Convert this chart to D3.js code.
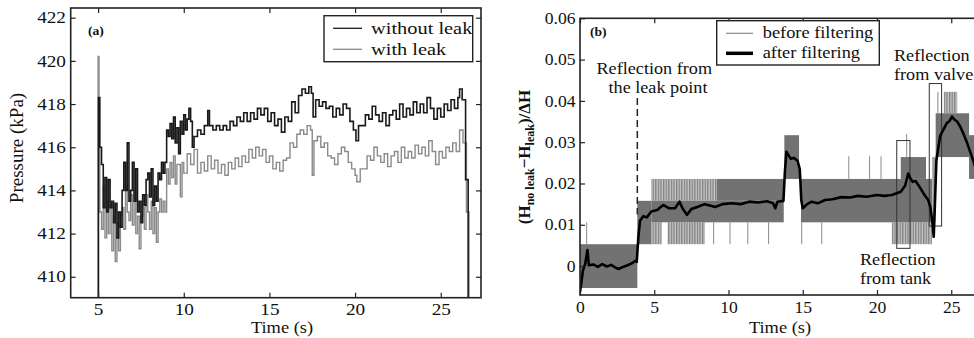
<!DOCTYPE html>
<html>
<head>
<meta charset="utf-8">
<script src="https://cdn.jsdelivr.net/npm/d3@7"></script>
<style>
  body { margin: 0; background: #fff; }
  text { font-family: "Liberation Serif", "Times New Roman", "DejaVu Serif", serif; fill: #111; }
</style>
</head>
<body>
<svg id="chart" width="974" height="338"></svg>
<script>
// ---- panel (a): pressure traces, [time s, kPa]
var withoutLeak = [[5.0,409],[5.02,418.3],[5.1,416],[5.2,415.2],[5.3,413.2],[5.4,414.6],[5.5,413.0],[5.6,414.5],[5.7,413.2],[5.8,413.5],[5.9,412.5],[6.0,413.4],[6.1,411.8],[6.2,413.0],[6.3,412.3],[6.4,414.0],[6.5,415.3],[6.6,414.0],[6.7,416.2],[6.8,413.5],[6.9,414.0],[7.0,415.3],[7.1,413.5],[7.2,415.0],[7.3,413.0],[7.4,413.5],[7.5,412.5],[7.6,413.8],[7.7,413.3],[7.8,414.5],[7.9,414.8],[8.0,413.7],[8.1,415.0],[8.2,413.3],[8.3,414.2],[8.4,413.5],[8.5,414.8],[8.6,414.5],[8.7,415.3],[8.8,414.8],[8.9,415.3],[9.0,416.8],[9.1,416.5],[9.2,417.1],[9.3,416.4],[9.4,417.4],[9.5,416.2],[9.6,416.9],[9.7,415.7],[9.8,417.2],[9.9,416.6],[10.0,417.5],[10.1,416.8],[10.2,417.3],[10.3,417.8],[10.4,417.2],[10.5,416.0],[10.6,416.5],[10.8,416.8],[11.0,416.6],[11.2,417.0],[11.4,417.7],[11.5,417.0],[11.7,416.8],[11.9,417.0],[12.1,416.8],[12.3,417.0],[12.5,416.8],[12.7,417.2],[12.9,417.0],[13.1,417.4],[13.3,417.2],[13.5,417.6],[13.7,417.2],[13.9,417.6],[14.1,417.3],[14.3,417.8],[14.5,417.5],[14.7,417.8],[14.9,417.2],[15.1,417.6],[15.3,417.0],[15.5,417.3],[15.7,416.7],[15.9,417.4],[16.1,417.2],[16.3,418.1],[16.5,417.6],[16.7,418.4],[16.9,418.7],[17.1,418.5],[17.3,418.8],[17.45,418.5],[17.55,417.4],[17.7,418.2],[17.9,417.9],[18.1,418.1],[18.3,417.8],[18.5,417.9],[18.7,417.4],[18.9,417.8],[19.1,417.5],[19.3,418.0],[19.5,417.8],[19.7,417.2],[19.9,416.8],[20.05,416.3],[20.2,417.0],[20.4,417.0],[20.6,417.5],[20.8,417.3],[21.0,417.9],[21.2,417.5],[21.4,417.2],[21.6,417.6],[21.8,417.0],[22.0,417.5],[22.2,417.7],[22.4,417.3],[22.6,418.0],[22.8,417.4],[23.0,417.8],[23.2,417.5],[23.4,418.1],[23.6,417.6],[23.8,418.0],[24.0,417.6],[24.2,418.3],[24.4,417.8],[24.6,417.3],[24.8,417.8],[25.0,417.4],[25.2,418.0],[25.4,417.7],[25.6,418.2],[25.8,417.8],[26.0,418.3],[26.1,418.7],[26.25,418.2],[26.45,414.5],[26.6,409]];

var withLeak = [[5.0,409],[5.0,420.2],[5.05,416],[5.1,413],[5.2,412.2],[5.3,414.2],[5.4,411.8],[5.5,413.5],[5.6,412],[5.7,413.3],[5.8,411.2],[5.9,412.8],[6.0,410.7],[6.1,412.5],[6.2,411.2],[6.3,412.8],[6.4,413.2],[6.5,412.2],[6.6,414.3],[6.7,413.0],[6.8,412.6],[6.9,413.8],[7.0,412.4],[7.1,414.0],[7.2,412.0],[7.3,412.8],[7.4,411.3],[7.5,412.8],[7.6,413.2],[7.7,412.2],[7.8,413.8],[7.9,413.0],[8.0,412.2],[8.1,413.5],[8.2,412.0],[8.3,413.2],[8.4,411.6],[8.5,413.0],[8.6,413.6],[8.7,413.0],[8.8,413.5],[8.9,413.0],[9.0,415.0],[9.1,414.3],[9.2,415.3],[9.3,414.6],[9.4,415.6],[9.5,414.3],[9.6,415.2],[9.8,413.7],[9.9,415.3],[10.0,414.8],[10.2,415.7],[10.4,415.2],[10.6,415.9],[10.8,414.8],[11.0,415.3],[11.2,414.9],[11.4,415.6],[11.6,415.0],[11.8,415.4],[12.0,414.8],[12.2,415.2],[12.4,414.7],[12.6,415.3],[12.8,415.0],[13.0,415.5],[13.2,415.1],[13.4,415.6],[13.6,415.3],[13.8,415.9],[14.0,415.5],[14.2,416.0],[14.4,415.6],[14.6,415.9],[14.8,415.3],[15.0,415.6],[15.2,415.0],[15.4,415.3],[15.6,414.9],[15.8,415.4],[16.0,415.5],[16.2,416.2],[16.4,416.0],[16.6,416.6],[16.8,416.8],[17.0,416.6],[17.2,417.0],[17.4,416.8],[17.5,414.7],[17.6,416.3],[17.8,416.5],[18.0,416.0],[18.2,416.2],[18.4,415.6],[18.6,415.5],[18.8,415.2],[19.0,415.7],[19.2,416.0],[19.4,415.8],[19.6,415.3],[19.8,415.0],[20.0,414.7],[20.1,414.4],[20.3,415.0],[20.5,415.0],[20.7,415.6],[20.9,415.4],[21.1,416.0],[21.3,415.6],[21.5,415.3],[21.7,415.7],[21.9,415.1],[22.1,415.6],[22.3,415.8],[22.5,415.3],[22.7,416.0],[22.9,415.5],[23.1,415.8],[23.3,415.5],[23.5,416.1],[23.7,415.7],[23.9,416.0],[24.1,415.6],[24.3,416.3],[24.5,415.8],[24.7,415.2],[24.9,415.8],[25.1,415.5],[25.3,416.0],[25.5,415.8],[25.7,416.2],[25.9,415.8],[26.1,416.8],[26.3,416.2],[26.5,413],[26.65,409]];

var pressTicks = [410, 412, 414, 416, 418, 420, 422];
var timeTicksA = [5, 10, 15, 20, 25];
var legendA = ["without leak", "with leak"];

// ---- panel (b): normalised head difference
// quantised raw signal: [t0, t1, low, high] where it flickers densely
var rawDense = [[0,3.86,-0.0053,0.0053],[3.86,4.8,0.0053,0.0158],[4.8,13.72,0.0106,0.0158],[9.2,13.72,0.0158,0.0211],[13.76,14.75,0.0211,0.0317],[14.88,23.7,0.0106,0.0211],[21.6,23.3,0.0211,0.0264],[23.95,26.2,0.0264,0.0370],[26.2,28,0.0211,0.0317]];
// where it flickers only now and then
var rawSparse = [[4.8,9.2,0.0158,0.0211],[4.8,5.5,0.0053,0.0106],[5.9,8.4,0.0053,0.0106],[21.0,23.7,0.0053,0.0106],[24.5,25.4,0.0370,0.0422],[23.7,23.95,0.0106,0.0264]];
// single flicks: [t, low, high]
var rawSpikes = [[0.45,0.0053,0.0106],[9.0,0.0053,0.0106],[10.1,0.0053,0.0106],[11.3,0.0053,0.0106],[12.7,0.0053,0.0106],[14.93,0.0053,0.0106],[16.28,0.0053,0.0106],[18.1,0.0211,0.0266],[19.5,0.0211,0.0266],[20.27,0.0211,0.0266],[22.0,0.0264,0.032],[24.1,0.037,0.0422]];

var filtered = [[0.0,-0.0062],[0.07,-0.0046],[0.2,-0.001],[0.35,0.0005],[0.5,0.0039],[0.6,0.0002],[0.9,0.0004],[1.2,-0.0002],[1.5,0.0005],[1.8,-0.0001],[2.1,0.0003],[2.4,-0.0004],[2.6,-0.0007],[2.9,-0.0002],[3.2,0.0002],[3.45,0.0006],[3.74,0.0013],[3.82,0.0010],[3.93,0.0070],[4.04,0.0110],[4.27,0.0121],[4.5,0.0118],[4.8,0.0132],[5.2,0.0136],[5.6,0.0148],[6.0,0.0140],[6.4,0.0140],[6.7,0.0156],[6.9,0.0140],[7.2,0.0124],[7.5,0.0138],[7.9,0.0143],[8.4,0.0150],[8.8,0.0146],[9.1,0.0143],[9.6,0.0150],[10.2,0.0152],[10.8,0.0150],[11.4,0.0156],[12.0,0.0154],[12.6,0.0157],[13.0,0.0152],[13.15,0.0140],[13.3,0.0156],[13.7,0.0158],[13.8,0.0230],[13.9,0.0277],[14.05,0.0268],[14.2,0.0260],[14.4,0.0262],[14.65,0.0255],[14.8,0.0235],[14.9,0.0160],[15.0,0.0140],[15.3,0.0150],[15.6,0.0156],[16.0,0.0152],[16.5,0.0160],[17.0,0.0162],[17.6,0.0167],[18.2,0.0166],[18.7,0.0170],[19.3,0.0168],[20.0,0.0172],[20.5,0.0170],[21.0,0.0172],[21.6,0.0180],[21.9,0.0195],[22.1,0.0224],[22.25,0.0212],[22.4,0.0204],[22.6,0.0206],[22.9,0.0190],[23.2,0.0172],[23.45,0.0160],[23.6,0.0142],[23.75,0.0100],[23.82,0.0071],[23.9,0.0150],[24.0,0.0257],[24.25,0.0315],[24.5,0.0332],[24.7,0.0346],[24.9,0.0352],[25.05,0.0362],[25.2,0.0355],[25.4,0.0350],[25.6,0.0338],[25.8,0.0322],[26.05,0.0300],[26.3,0.0274],[26.6,0.0242],[27.0,0.0225],[28,0.0215]];

var headTicks = [0, 0.01, 0.02, 0.03, 0.04, 0.05, 0.06];
var timeTicksB = [0, 5, 10, 15, 20, 25];
var legendB = ["before filtering", "after filtering"];
// marked reflection windows: [t0, t1, low, high]
var tankBox = [21.33, 22.22, 0.0043, 0.0304];
var valveBox = [23.52, 24.35, 0.0097, 0.0442];
var leakTime = 3.86;

var svg = d3.select("#chart");

// vertical-stripe fill for the sparse flicker of the raw signal
var pat = svg.append("defs").append("pattern").attr("id", "flick")
  .attr("patternUnits", "userSpaceOnUse").attr("width", 2.6).attr("height", 10);
pat.append("rect").attr("width", 2.6).attr("height", 10).attr("fill", "#c8c8c8");
pat.append("rect").attr("width", 1.3).attr("height", 10).attr("fill", "#808080");

// horizontal stretch of the scanned lettering
function stretchText(sel, k) {
  sel.attr("transform", function () {
    var t = d3.select(this).attr("transform");
    return (t ? t + " " : "") + "scale(" + k + ",1)";
  });
}

function label(g, x, y, str, size, k, anchor) {
  return g.append("text").attr("transform", "translate(" + x + "," + y + ") scale(" + k + ",1)")
    .attr("text-anchor", anchor || "start").style("font-size", size + "px").text(str);
}

function frame(g, x, y) {
  var x0 = x.range()[0], x1 = x.range()[1], y0 = y.range()[1], y1 = y.range()[0];
  g.append("rect").attr("x", x0).attr("y", y0).attr("width", x1 - x0).attr("height", y1 - y0)
    .attr("fill", "none").attr("stroke", "#222").attr("stroke-width", 1.6);
}

function axes(g, x, y, xt, yt, yfmt, k, pad) {
  var x0 = x.range()[0], x1 = x.range()[1], y0 = y.range()[1], y1 = y.range()[0];
  var strip = function (s) {
    s.attr("font-family", null);
    s.select(".domain").remove();
    s.selectAll("line").attr("stroke", "#222").attr("stroke-width", 1.2);
  };
  g.append("g").attr("transform", "translate(0," + y1 + ")")
    .call(d3.axisBottom(x).tickValues(xt).tickSize(-5).tickPadding(pad).tickFormat(d3.format("d")))
    .call(strip).selectAll("text").style("font-size", "16px").call(stretchText, k);
  g.append("g").attr("transform", "translate(0," + y0 + ")")
    .call(d3.axisTop(x).tickValues(xt).tickSize(-5).tickFormat(""))
    .call(strip);
  g.append("g").attr("transform", "translate(" + x0 + ",0)")
    .call(d3.axisLeft(y).tickValues(yt).tickSize(-5).tickPadding(4).tickFormat(yfmt))
    .call(strip).selectAll("text").style("font-size", "16px").call(stretchText, k);
  g.append("g").attr("transform", "translate(" + x1 + ",0)")
    .call(d3.axisRight(y).tickValues(yt).tickSize(-5).tickFormat(""))
    .call(strip);
}

// ================= panel (a)
var xa = d3.scaleLinear().domain([3.4, 27.35]).range([70.7, 481]);
var ya = d3.scaleLinear().domain([409.03, 422.45]).range([297.7, 8]);
var ga = svg.append("g");

ga.append("clipPath").attr("id", "clipA").append("rect")
  .attr("x", 70.7).attr("y", 8).attr("width", 481 - 70.7).attr("height", 297.7 - 8);

var lineA = d3.line().x(function (d) { return xa(d[0]); }).y(function (d) { return ya(d[1]); }).curve(d3.curveStepAfter);

ga.append("path").datum(withLeak).attr("d", lineA).attr("clip-path", "url(#clipA)")
  .attr("fill", "none").attr("stroke", "#8a8a8a").attr("stroke-width", 1.4);
ga.append("path").datum(withoutLeak).attr("d", lineA).attr("clip-path", "url(#clipA)")
  .attr("fill", "none").attr("stroke", "#1a1a1a").attr("stroke-width", 1.6);

axes(ga, xa, ya, timeTicksA, pressTicks, d3.format("d"), 1.2, 6);
frame(ga, xa, ya);

label(ga, 88, 35, "(a)", 13, 1.05).style("font-weight", "bold");
ga.append("text").attr("transform", "translate(23,148) rotate(-90)").attr("text-anchor", "middle")
  .style("font-size", "19px").text("Pressure (kPa)");
label(ga, 282, 333, "Time (s)", 16, 1.15, "middle");

var legA = ga.append("g");
legA.append("rect").attr("x", 324).attr("y", 15.7).attr("width", 148.7).attr("height", 46)
  .attr("fill", "#fff").attr("stroke", "#222").attr("stroke-width", 1.4);
legendA.forEach(function (name, i) {
  var yy = 28.3 + i * 21;
  legA.append("line").attr("x1", 333).attr("x2", 362).attr("y1", yy).attr("y2", yy)
    .attr("stroke", i === 0 ? "#1a1a1a" : "#8a8a8a").attr("stroke-width", 1.3);
  label(legA, 371, yy + 6, name, 17, 1.2);
});

// ================= panel (b)
var xb = d3.scaleLinear().domain([0, 28]).range([580, 580 + 28 * 14.85]);
var yb = d3.scaleLinear().domain([-0.007, 0.06]).range([295, 18.3]);
var gb = svg.append("g");

gb.append("clipPath").attr("id", "clipB").append("rect")
  .attr("x", 580).attr("y", 18.3).attr("width", 28 * 14.85).attr("height", 295 - 18.3);
var plotB = gb.append("g").attr("clip-path", "url(#clipB)");

plotB.selectAll(".sparse").data(rawSparse).enter().append("rect")
  .attr("x", function (d) { return xb(d[0]); }).attr("width", function (d) { return xb(d[1]) - xb(d[0]); })
  .attr("y", function (d) { return yb(d[3]); }).attr("height", function (d) { return yb(d[2]) - yb(d[3]); })
  .attr("fill", "url(#flick)");
plotB.selectAll(".dense").data(rawDense).enter().append("rect")
  .attr("x", function (d) { return xb(d[0]); }).attr("width", function (d) { return xb(d[1]) - xb(d[0]); })
  .attr("y", function (d) { return yb(d[3]); }).attr("height", function (d) { return yb(d[2]) - yb(d[3]); })
  .attr("fill", "#727272");
plotB.selectAll(".spike").data(rawSpikes).enter().append("line")
  .attr("x1", function (d) { return xb(d[0]); }).attr("x2", function (d) { return xb(d[0]); })
  .attr("y1", function (d) { return yb(d[1]); }).attr("y2", function (d) { return yb(d[2]); })
  .attr("stroke", "#8a8a8a").attr("stroke-width", 1);

// marked windows
[tankBox, valveBox].forEach(function (b) {
  plotB.append("rect").attr("x", xb(b[0])).attr("width", xb(b[1]) - xb(b[0]))
    .attr("y", yb(b[3])).attr("height", yb(b[2]) - yb(b[3]))
    .attr("fill", "none").attr("stroke", "#333").attr("stroke-width", 1);
});

var lineB = d3.line().x(function (d) { return xb(d[0]); }).y(function (d) { return yb(d[1]); });
plotB.append("path").datum(filtered).attr("d", lineB)
  .attr("fill", "none").attr("stroke", "#000").attr("stroke-width", 2.6).attr("stroke-linejoin", "round");

plotB.append("line").attr("x1", xb(leakTime)).attr("x2", xb(leakTime)).attr("y1", 98).attr("y2", yb(0.0125))
  .attr("stroke", "#222").attr("stroke-width", 1.5).attr("stroke-dasharray", "7,4");

axes(gb, xb, yb, timeTicksB, headTicks, function (d) { return d === 0 ? "0" : d3.format(".2f")(d); }, 1.1, 7);
frame(gb, xb, yb);

label(gb, 590, 36, "(b)", 13, 1.05).style("font-weight", "bold");
label(gb, 780, 333, "Time (s)", 16, 1.15, "middle");

var ylab = gb.append("text").attr("transform", "translate(530,157) rotate(-90)").attr("text-anchor", "middle")
  .style("font-size", "17px").style("font-weight", "bold");
ylab.append("tspan").text("(H");
ylab.append("tspan").attr("dy", 4).style("font-size", "12px").text("no leak");
ylab.append("tspan").attr("dy", -4).text("\u2212H");
ylab.append("tspan").attr("dy", 4).style("font-size", "12px").text("leak");
ylab.append("tspan").attr("dy", -4).text(")/\u0394H");

var legB = gb.append("g");
legB.append("rect").attr("x", 716.7).attr("y", 20.7).attr("width", 162.6).attr("height", 44.3)
  .attr("fill", "#fff").attr("stroke", "#222").attr("stroke-width", 1.4);
legendB.forEach(function (name, i) {
  var yy = 33.3 + i * 20;
  legB.append("line").attr("x1", 726).attr("x2", 753).attr("y1", yy).attr("y2", yy)
    .attr("stroke", i === 0 ? "#8a8a8a" : "#000").attr("stroke-width", i === 0 ? 1.2 : 3.5);
  label(legB, 762.7, yy + 5, name, 17, 1.08);
});

// annotations
label(gb, xb(5.0), 74, "Reflection from", 17, 1.07, "middle");
label(gb, xb(5.25), 93, "the leak point", 17, 1.07, "middle");
label(gb, 894, 61, "Reflection", 17, 1.07);
label(gb, 894, 80, "from valve", 17, 1.07);
label(gb, 860, 265, "Reflection", 17, 1.07);
label(gb, 860, 284, "from tank", 17, 1.07);
</script>
</body>
</html>
